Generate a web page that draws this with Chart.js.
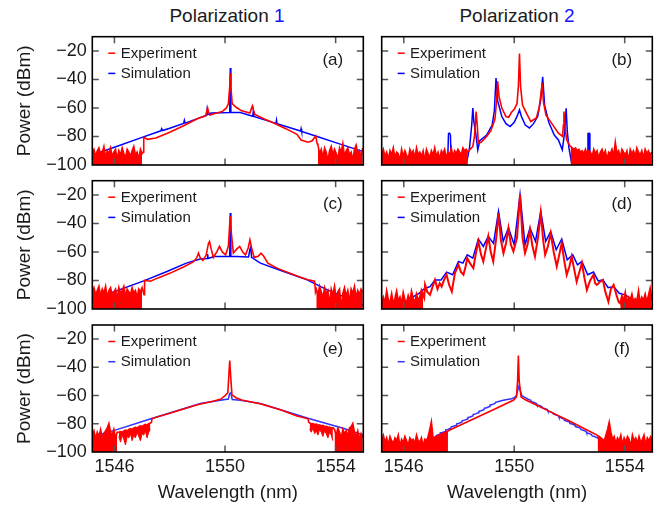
<!DOCTYPE html>
<html><head><meta charset="utf-8">
<script src="https://cdn.jsdelivr.net/npm/chart.js@4"></script>
<style>
html,body{margin:0;padding:0;background:#fff;}
#wrap{position:relative;width:659px;height:508px;overflow:hidden;font-family:'Liberation Sans',Arial,sans-serif;}
canvas{position:absolute;left:0;top:0;}
.ttl{position:absolute;top:5px;font-size:19px;line-height:22px;color:#1a1a1a;transform:translateX(-50%);white-space:nowrap;}
.ttl span{color:#1414ff;}
</style></head><body>
<div id="wrap">
<div class="ttl" style="left:227px">Polarization <span>1</span></div>
<div class="ttl" style="left:517px">Polarization <span>2</span></div>
<canvas id="ca" width="659" height="508"></canvas>
<canvas id="cb" width="659" height="508"></canvas>
<canvas id="cc" width="659" height="508"></canvas>
<canvas id="cd" width="659" height="508"></canvas>
<canvas id="ce" width="659" height="508"></canvas>
<canvas id="cf" width="659" height="508"></canvas>
</div>
<script>
// ---------- axis ticks ----------
const xTicks = [1546, 1550, 1554];
const yTicks = [-100, -80, -60, -40, -20];
const xRange = [1545.2, 1555];
const yRange = [-100, -10];
const legendLabels = ['Experiment', 'Simulation'];
const panelLabels = ['(a)', '(b)', '(c)', '(d)', '(e)', '(f)'];

// ---------- data ----------
// noise segments: top of the measured noise, sampled every 0.06 nm
const NOISE_STEP = 0.06;

// (a)
const aExpNoiseL = [-91,-89,-94,-90,-88,-93,-91,-87,-95,-90,-92,-88,-94,-91,-89,-96,-90,-93,-88,-92,-95,-89,-91,-94,-90,-87,-93,-91,-96,-89,-92];
const aExpMain = [[1547.04,-91],[1547.06,-80.5],[1547.2,-82],[1547.5,-81],[1548.0,-77],[1548.5,-72.5],[1549.0,-67.5],[1549.3,-65.5],[1549.34,-62],[1549.37,-60],[1549.4,-62.5],[1549.45,-65],[1549.7,-63.5],[1549.9,-62.5],[1550.05,-60],[1550.12,-57],[1550.17,-45],[1550.19,-35.5],[1550.21,-45],[1550.26,-57],[1550.4,-59.5],[1550.6,-62],[1550.9,-63.5],[1550.96,-60],[1550.99,-58.5],[1551.02,-61],[1551.08,-64.5],[1551.4,-67.5],[1551.76,-70.6],[1552.2,-74.5],[1552.6,-78.5],[1552.75,-82.5],[1553.0,-84],[1553.15,-83],[1553.28,-79.6],[1553.33,-85]];
const aExpNoiseR = [-86,-92,-89,-95,-88,-91,-97,-90,-87,-93,-89,-92,-96,-88,-91,-85,-94,-90,-88,-93,-91,-97,-89,-86,-92,-90,-94,-88];
const aSim = [[1545.2,-93],[1546.0,-87.5],[1547.0,-80.6],[1547.68,-76],[1547.71,-74.5],[1547.74,-75.8],[1548.0,-74.2],[1548.5,-70.8],[1548.53,-68.5],[1548.56,-70.6],[1549.0,-67.5],[1549.33,-65],[1549.35,-61.5],[1549.37,-64.6],[1549.5,-63.5],[1550.17,-63.2],[1550.19,-32],[1550.21,-63.2],[1550.55,-63.2],[1551.0,-65.8],[1551.02,-62.5],[1551.04,-66],[1551.84,-70.8],[1551.86,-68.5],[1551.88,-71],[1552.73,-76.2],[1552.75,-74.5],[1552.77,-76.4],[1553.33,-80],[1554.0,-84.3],[1555.0,-90.6]];

// (b)
const bExpNoiseL = [-92,-89,-94,-91,-96,-90,-93,-88,-95,-91,-92,-97,-89,-94,-90,-93,-96,-89,-92,-90,-95,-88,-93,-91,-94,-90,-97,-89,-92,-95,-90,-93,-88,-94,-91,-96,-90,-92,-89,-95,-91,-93,-88,-94,-90,-92,-89,-91,-93,-88,-90,-89,-91];
const bExpMain = [[1548.4,-89],[1548.5,-87],[1548.56,-80],[1548.62,-62.5],[1548.66,-72],[1548.7,-84.5],[1548.8,-84],[1549.0,-80],[1549.15,-76],[1549.3,-68],[1549.36,-55],[1549.4,-41.3],[1549.45,-52],[1549.55,-60],[1549.7,-66],[1549.8,-66.5],[1549.9,-63],[1550.0,-61],[1550.1,-57],[1550.15,-45],[1550.19,-21.8],[1550.23,-45],[1550.3,-58],[1550.45,-64],[1550.6,-69.5],[1550.8,-67],[1550.9,-60],[1550.97,-50],[1551.01,-42.5],[1551.06,-56],[1551.15,-65],[1551.4,-72],[1551.6,-77.7],[1551.75,-80],[1551.78,-72],[1551.8,-62.5],[1551.84,-74],[1551.9,-82.4],[1552.0,-86]];
const bExpNoiseR = [-87,-88,-89,-88,-90,-89,-91,-90,-92,-89,-93,-90,-91,-94,-89,-92,-90,-95,-91,-89,-93,-90,-96,-91,-92,-89,-94,-84,-92,-90,-95,-89,-91,-93,-90,-97,-89,-92,-90,-94,-88,-91,-93,-90,-95,-89,-92,-90,-93,-91];
const bSim = [[1545.2,-102],[1547.58,-102],[1547.62,-78],[1547.66,-77.7],[1547.69,-79],[1547.72,-102],[1548.25,-101],[1548.38,-88],[1548.46,-72],[1548.5,-60],[1548.54,-70],[1548.6,-77],[1548.68,-89.4],[1548.75,-83],[1549.0,-79],[1549.2,-72],[1549.28,-62],[1549.34,-39],[1549.4,-55],[1549.55,-66],[1549.7,-71],[1549.85,-73],[1550.0,-70],[1550.12,-65],[1550.19,-61.3],[1550.26,-66],[1550.4,-72],[1550.55,-74],[1550.7,-71],[1550.85,-66],[1550.96,-54],[1551.03,-38.2],[1551.1,-58],[1551.25,-70],[1551.45,-79],[1551.6,-82.4],[1551.74,-89.4],[1551.82,-78],[1551.88,-60.2],[1551.92,-76],[1551.98,-88],[1552.1,-101],[1552.64,-102],[1552.67,-78],[1552.71,-77.7],[1552.74,-102],[1555.0,-102]];

// (c)
const cExpNoiseL = [-88,-85,-90,-87,-84,-91,-86,-89,-84,-92,-87,-85,-90,-88,-86,-93,-85,-89,-87,-84,-91,-86,-88,-90,-85,-89,-87,-92,-86,-88,-85];
const cExpMain = [[1547.07,-90],[1547.09,-80],[1547.3,-80.5],[1547.6,-78],[1548.0,-75],[1548.5,-70.5],[1548.85,-67],[1548.98,-64],[1549.04,-60.8],[1549.1,-64],[1549.2,-66],[1549.32,-62],[1549.4,-54],[1549.44,-52.6],[1549.5,-58],[1549.58,-63.8],[1549.7,-60],[1549.8,-56.1],[1549.9,-60],[1550.02,-62],[1550.12,-56],[1550.17,-40],[1550.19,-34.8],[1550.22,-45],[1550.3,-60.8],[1550.42,-58],[1550.53,-56.1],[1550.64,-60],[1550.74,-62],[1550.84,-57],[1550.9,-51.5],[1550.96,-57],[1551.05,-63.8],[1551.2,-63],[1551.3,-60.8],[1551.4,-63],[1551.55,-67.8],[1551.9,-71.5],[1552.3,-74.5],[1552.7,-77.5],[1553.0,-79.5],[1553.24,-80.5],[1553.27,-88]];
const cExpNoiseR = [-86,-90,-84,-88,-92,-85,-89,-87,-97,-86,-90,-84,-93,-88,-86,-100,-89,-85,-91,-87,-95,-86,-89,-84,-92,-87,-90,-86,-88];
const cSim = [[1545.2,-93.5],[1547.06,-80.3],[1547.9,-73.7],[1548.6,-67.8],[1549.1,-65],[1549.35,-64.5],[1549.37,-61.5],[1549.39,-64.5],[1549.6,-63.2],[1550.17,-63],[1550.19,-32.6],[1550.21,-63],[1550.85,-63.5],[1550.9,-58],[1550.93,-56.8],[1550.96,-63.8],[1551.28,-67.8],[1552.12,-73.7],[1552.97,-79.6],[1553.7,-86.6],[1554.73,-94.8],[1555.0,-97]];

// (d)
const dExpNoiseL = [-95,-92,-97,-88,-94,-96,-90,-97,-93,-88,-95,-92,-97,-89,-94,-96,-91,-95,-88,-93,-96,-90,-94,-92,-87,-90];
const dExpMain = [[1546.74,-92],[1546.77,-83],[1546.85,-88],[1546.95,-90],[1547.05,-84],[1547.13,-79.6],[1547.22,-86],[1547.3,-82],[1547.37,-84.3],[1547.47,-79],[1547.55,-76],[1547.64,-83],[1547.74,-87.8],[1547.85,-75],[1547.98,-69],[1548.07,-74],[1548.16,-76],[1548.24,-70],[1548.3,-64.3],[1548.4,-68],[1548.52,-71.4],[1548.62,-60],[1548.7,-52.6],[1548.8,-62],[1548.88,-66.7],[1548.97,-58],[1549.06,-49],[1549.15,-60],[1549.24,-66.7],[1549.35,-50],[1549.43,-32.7],[1549.52,-52],[1549.61,-60.8],[1549.7,-54],[1549.79,-43.2],[1549.88,-55],[1549.97,-59.6],[1550.1,-50],[1550.21,-19.7],[1550.3,-50],[1550.39,-60.8],[1550.48,-55],[1550.57,-44.4],[1550.66,-56],[1550.75,-63.2],[1550.86,-50],[1550.96,-32.7],[1551.05,-52],[1551.12,-62],[1551.22,-56],[1551.32,-46.8],[1551.43,-60],[1551.54,-70.2],[1551.63,-62],[1551.72,-53.9],[1551.81,-66],[1551.9,-76],[1552.0,-70],[1552.08,-63.2],[1552.17,-72],[1552.26,-80.8],[1552.36,-74],[1552.45,-67.8],[1552.54,-78],[1552.63,-86.6],[1552.75,-80],[1552.87,-76],[1552.93,-82],[1552.99,-83.1],[1553.1,-81],[1553.21,-79.6],[1553.3,-88],[1553.41,-94.9],[1553.5,-86],[1553.6,-83.1],[1553.7,-90],[1553.78,-95]];
const dExpNoiseR = [-96,-91,-95,-89,-97,-92,-94,-90,-96,-93,-95,-88,-97,-92,-94,-90,-96,-91,-86,-94];
const dSim = [[1545.2,-99],[1545.8,-98],[1546.11,-94.9],[1546.23,-93.5],[1546.35,-91.3],[1546.55,-89],[1546.77,-85.4],[1546.95,-84.3],[1547.13,-79.6],[1547.35,-79.6],[1547.55,-74.1],[1547.77,-76],[1547.98,-66.7],[1548.14,-67.8],[1548.3,-62],[1548.5,-64.3],[1548.7,-50.9],[1548.88,-56.1],[1549.06,-49.1],[1549.25,-54],[1549.43,-31.5],[1549.6,-52.6],[1549.79,-43.2],[1550.0,-55],[1550.21,-19.7],[1550.39,-55],[1550.57,-43.2],[1550.77,-52.6],[1550.96,-31.5],[1551.14,-52.6],[1551.32,-45.6],[1551.52,-58.5],[1551.72,-50.9],[1551.92,-65.5],[1552.12,-62],[1552.29,-69],[1552.45,-66.7],[1552.66,-76],[1552.87,-74.1],[1553.04,-80.3],[1553.21,-79.6],[1553.4,-85],[1553.6,-84.3],[1553.8,-89],[1554.02,-90.1],[1554.25,-93],[1554.5,-94.9],[1554.92,-98.4],[1555.0,-99]];

// (e)
const eExpNoiseL = [-88,-85,-91,-86,-89,-84,-90,-87,-85,-83,-79.8,-86,-88,-84,-90,-86];
const eBandLTop = [-86,-85.5,-86,-85,-84.5,-85,-84,-83.5,-84,-83,-82.5,-83,-82,-81.5,-82,-81,-80.5,-81,-80,-79.5];
const eBandLBot = [-89,-93,-88,-91,-95,-89,-90,-87,-92,-88,-90,-86,-89,-92,-87,-88,-85,-90,-86,-84];
const eExpMain = [[1547.34,-79],[1547.36,-76.3],[1548.0,-72.5],[1549.0,-66.5],[1549.6,-63.8],[1549.85,-62.5],[1550.0,-60],[1550.1,-58],[1550.14,-45],[1550.17,-35.2],[1550.2,-45],[1550.25,-59.5],[1550.4,-61.5],[1550.6,-63.2],[1551.3,-66],[1552.0,-70],[1552.6,-74.5],[1553.0,-76.5],[1553.03,-79]];
const eBandRTop = [-79.5,-80,-79.8,-80.5,-80.2,-81,-80.8,-81.5,-81.2,-82,-81.8,-82.5,-82.3,-83,-82.8];
const eBandRBot = [-84,-86,-83,-87,-85,-88,-84,-86,-89,-85,-87,-90,-86,-88,-92];
const eExpNoiseR = [-84,-88,-83,-86,-90,-84,-87,-85,-89,-83,-82,-79.8,-86,-89,-85,-91,-87,-90];
const eSim = [[1545.2,-89],[1546.03,-84.5],[1547.35,-76.3],[1549.11,-65.7],[1549.83,-63.4],[1550.12,-62.5],[1550.16,-59],[1550.19,-58.2],[1550.22,-59],[1550.26,-62.8],[1550.55,-63.4],[1551.28,-65.7],[1553.03,-76.3],[1554.3,-83.3],[1555.0,-88]];

// (f)
const fExpNoiseL = [-91,-88,-93,-90,-95,-89,-92,-94,-90,-92,-88,-96,-91,-93,-89,-92,-95,-90,-92,-91,-94,-88,-92,-93,-90,-96,-91,-92,-89,-84,-78.5,-90,-89.5,-88.9,-88.4,-87.8,-87.3,-86.7,-86.2,-85.6,-85.1];
const fExpMain = [[1547.65,-84.6],[1548.5,-76.8],[1549.3,-69.5],[1549.98,-63.2],[1550.08,-61],[1550.12,-50],[1550.15,-31.7],[1550.18,-50],[1550.25,-61],[1550.4,-63],[1551.2,-70.5],[1552.0,-78],[1552.6,-84],[1553.0,-88]];
const fExpNoiseR = [-88.5,-89,-90,-91,-92,-88,-84,-78.7,-86,-91,-89,-94,-90,-92,-88,-95,-90,-93,-89,-91,-96,-88,-92,-90,-94,-89,-93,-91,-88,-95,-90,-92,-89,-91];
const fSim = [[1546.7,-101],[1546.9,-98],[1547.0,-96],[1547.1,-90],[1547.2,-88],[1547.3,-87.6],[1547.32,-86.5],[1547.4,-86.2],[1547.5,-85.4],[1547.52,-84.3],[1547.6,-84],[1547.7,-83.2],[1547.72,-82.2],[1547.8,-81.8],[1547.9,-81],[1547.92,-80],[1548.0,-79.6],[1548.1,-78.8],[1548.12,-77.8],[1548.2,-77.4],[1548.3,-76.6],[1548.32,-75.6],[1548.4,-75.2],[1548.5,-74.4],[1548.52,-73.4],[1548.6,-73],[1548.7,-72.2],[1548.72,-71.2],[1548.8,-70.8],[1548.9,-70],[1548.92,-69],[1549.0,-68.6],[1549.1,-67.8],[1549.12,-66.8],[1549.2,-66.4],[1549.3,-65.6],[1549.32,-64.8],[1549.4,-64.4],[1549.5,-63.8],[1549.6,-63.4],[1549.7,-63],[1549.8,-62.6],[1549.9,-62.2],[1550.0,-61.6],[1550.08,-60],[1550.13,-56],[1550.17,-53.5],[1550.21,-56],[1550.27,-60],[1550.35,-61],[1550.45,-62],[1550.5,-62.6],[1550.6,-63.4],[1550.62,-64.4],[1550.7,-64.8],[1550.8,-65.6],[1550.82,-66.6],[1550.9,-67],[1551.0,-67.8],[1551.02,-68.8],[1551.1,-69.2],[1551.2,-70],[1551.22,-71],[1551.3,-71.4],[1551.4,-72.2],[1551.42,-73.2],[1551.5,-73.6],[1551.6,-74.4],[1551.62,-75.4],[1551.7,-75.8],[1551.8,-76.6],[1551.82,-77.6],[1551.9,-78],[1552.0,-78.8],[1552.02,-79.8],[1552.1,-80.2],[1552.2,-81],[1552.22,-82],[1552.3,-82.4],[1552.4,-83.2],[1552.42,-84.2],[1552.5,-84.6],[1552.6,-85.4],[1552.62,-86.4],[1552.7,-86.8],[1552.8,-87.6],[1552.82,-88.6],[1552.9,-89],[1553.0,-89.8],[1553.1,-91],[1553.2,-92.5],[1553.3,-94.5],[1553.45,-97],[1553.6,-99],[1553.8,-101]];

// ---------- builders ----------
function seg(start, ys) { return ys.map((y, i) => ({ x: +(start + i * NOISE_STEP).toFixed(3), y })); }
function pairs(p) { return p.map(([x, y]) => ({ x, y })); }
const byX = (a, b) => a.x - b.x;

// floors: noise filled down to the axis; bands: filled between a top and bottom edge
const panels = [
  { id: 'ca', col: 0, row: 0, main: aExpMain, sim: aSim, floors: [[1545.2, aExpNoiseL], [1553.36, aExpNoiseR]], bands: [] },
  { id: 'cb', col: 1, row: 0, main: bExpMain, sim: bSim, floors: [[1545.2, bExpNoiseL], [1552.04, bExpNoiseR]], bands: [] },
  { id: 'cc', col: 0, row: 1, main: cExpMain, sim: cSim, floors: [[1545.2, cExpNoiseL], [1553.3, cExpNoiseR]], bands: [] },
  { id: 'cd', col: 1, row: 1, main: dExpMain, sim: dSim, floors: [[1545.2, dExpNoiseL], [1553.84, dExpNoiseR]], bands: [] },
  { id: 'ce', col: 0, row: 2, main: eExpMain, sim: eSim, floors: [[1545.2, eExpNoiseL], [1553.96, eExpNoiseR]], bands: [[1546.16, eBandLTop, eBandLBot], [1553.06, eBandRTop, eBandRBot]] },
  { id: 'cf', col: 1, row: 2, main: fExpMain, sim: fSim, floors: [[1545.2, fExpNoiseL], [1553.02, fExpNoiseR]], bands: [] }
];

// ---------- layout ----------
const W = 659, H = 508;
const colLR = [[92.3, 363.3], [381.7, 652.3]];
const rowTB = [[36.7, 165], [180.7, 309], [325, 452]];
const FONT = "'Liberation Sans', Arial, sans-serif";
const RED = '#ff0000';

const framePlugin = {
  id: 'frame',
  afterDatasetsDraw(chart, args, opts) {
    const { ctx, chartArea: a, scales } = chart;
    ctx.save();
    ctx.strokeStyle = '#555';
    ctx.lineWidth = 1.5;
    const tl = 6.5;
    ctx.beginPath();
    yTicks.forEach(v => {
      if (v <= yRange[0]) return;
      const py = scales.y.getPixelForValue(v);
      ctx.moveTo(a.left, py); ctx.lineTo(a.left + tl, py);
      ctx.moveTo(a.right, py); ctx.lineTo(a.right - tl, py);
    });
    xTicks.forEach(v => {
      const px = scales.x.getPixelForValue(v);
      ctx.moveTo(px, a.bottom); ctx.lineTo(px, a.bottom - tl);
      ctx.moveTo(px, a.top); ctx.lineTo(px, a.top + tl);
    });
    ctx.stroke();
    ctx.strokeStyle = '#000';
    ctx.lineWidth = 1.6;
    ctx.strokeRect(a.left, a.top, a.right - a.left, a.bottom - a.top);
    // legend
    ctx.lineWidth = 1.5;
    [[RED, 16.5], [opts.simColor, 36.7]].forEach(([c, dy], i) => {
      ctx.strokeStyle = c;
      ctx.beginPath();
      ctx.moveTo(a.left + 16, a.top + dy); ctx.lineTo(a.left + 23, a.top + dy);
      ctx.stroke();
      ctx.fillStyle = '#1a1a1a';
      ctx.font = '15px ' + FONT;
      ctx.textAlign = 'left';
      ctx.textBaseline = 'middle';
      ctx.fillText(legendLabels[i], a.left + 28.4, a.top + dy + 0.5);
    });
    ctx.font = '17px ' + FONT;
    ctx.textAlign = 'center';
    ctx.textBaseline = 'middle';
    ctx.fillStyle = '#1a1a1a';
    ctx.fillText(opts.label, a.right - 30.5, a.top + 24);
    ctx.restore();
  }
};

panels.forEach((p, idx) => {
  const [L, R] = colLR[p.col];
  const [T, B] = rowTB[p.row];
  const isLeft = p.col === 0;
  const isBottom = p.row === 2;
  const simColor = p.row === 2 ? '#3030ff' : '#0000ff';
  const expW = p.id === 'cd' ? 2 : 1.6;

  // experiment line: main trace + top edges of noise and bands
  const expLine = [...pairs(p.main)];
  p.floors.forEach(([s, ys]) => expLine.push(...seg(s, ys)));
  p.bands.forEach(([s, top]) => expLine.push(...seg(s, top)));
  expLine.sort(byX);

  const datasets = [
    { data: expLine, borderColor: RED, borderWidth: expW, pointRadius: 0, tension: 0, fill: false, order: 0 },
    { data: pairs(p.sim), borderColor: simColor, borderWidth: 1.5, pointRadius: 0, tension: 0, fill: false, order: 3 }
  ];
  p.floors.forEach(([s, ys]) => {
    datasets.push({ data: seg(s, ys), borderWidth: 0, borderColor: RED, backgroundColor: RED, pointRadius: 0, tension: 0, fill: 'start', order: 1 });
  });
  p.bands.forEach(([s, top, bot]) => {
    const botIndex = datasets.length;
    datasets.push({ data: seg(s, bot), borderWidth: 1, borderColor: RED, pointRadius: 0, tension: 0, fill: false, order: 1 });
    datasets.push({ data: seg(s, top), borderWidth: 0, borderColor: RED, backgroundColor: RED, pointRadius: 0, tension: 0, fill: botIndex, order: 1 });
  });

  new Chart(document.getElementById(p.id), {
    type: 'line',
    data: { datasets },
    options: {
      responsive: false,
      animation: false,
      devicePixelRatio: 1,
      events: [],
      layout: { padding: { left: 0, top: T, right: W - R, bottom: 0 } },
      plugins: { legend: { display: false }, tooltip: { enabled: false }, frame: { label: panelLabels[idx], simColor } },
      scales: {
        x: {
          type: 'linear', min: xRange[0], max: xRange[1],
          grid: { display: false, drawTicks: false }, border: { display: false },
          afterBuildTicks: s => { s.ticks = xTicks.map(v => ({ value: v })); },
          afterFit: s => { s.height = H - B; },
          ticks: { display: isBottom, autoSkip: false, maxRotation: 0, padding: 4, color: '#1a1a1a', font: { family: FONT, size: 18 }, callback: v => String(v) },
          title: { display: isBottom, text: 'Wavelength (nm)', color: '#1a1a1a', font: { family: FONT, size: 18.5 }, padding: { top: 0, bottom: 4 } }
        },
        y: {
          type: 'linear', min: yRange[0], max: yRange[1],
          grid: { display: false, drawTicks: false }, border: { display: false },
          afterBuildTicks: s => { s.ticks = yTicks.map(v => ({ value: v })); },
          afterFit: s => { s.width = L; },
          ticks: { display: isLeft, autoSkip: false, padding: 5.6, color: '#1a1a1a', font: { family: FONT, size: 18 }, callback: v => (v < 0 ? '\u2212' + (-v) : String(v)) },
          title: { display: isLeft, text: 'Power (dBm)', color: '#1a1a1a', font: { family: FONT, size: 19 }, padding: { top: 13, bottom: 0 } }
        }
      }
    },
    plugins: [framePlugin]
  });
});
</script>
</body></html>
